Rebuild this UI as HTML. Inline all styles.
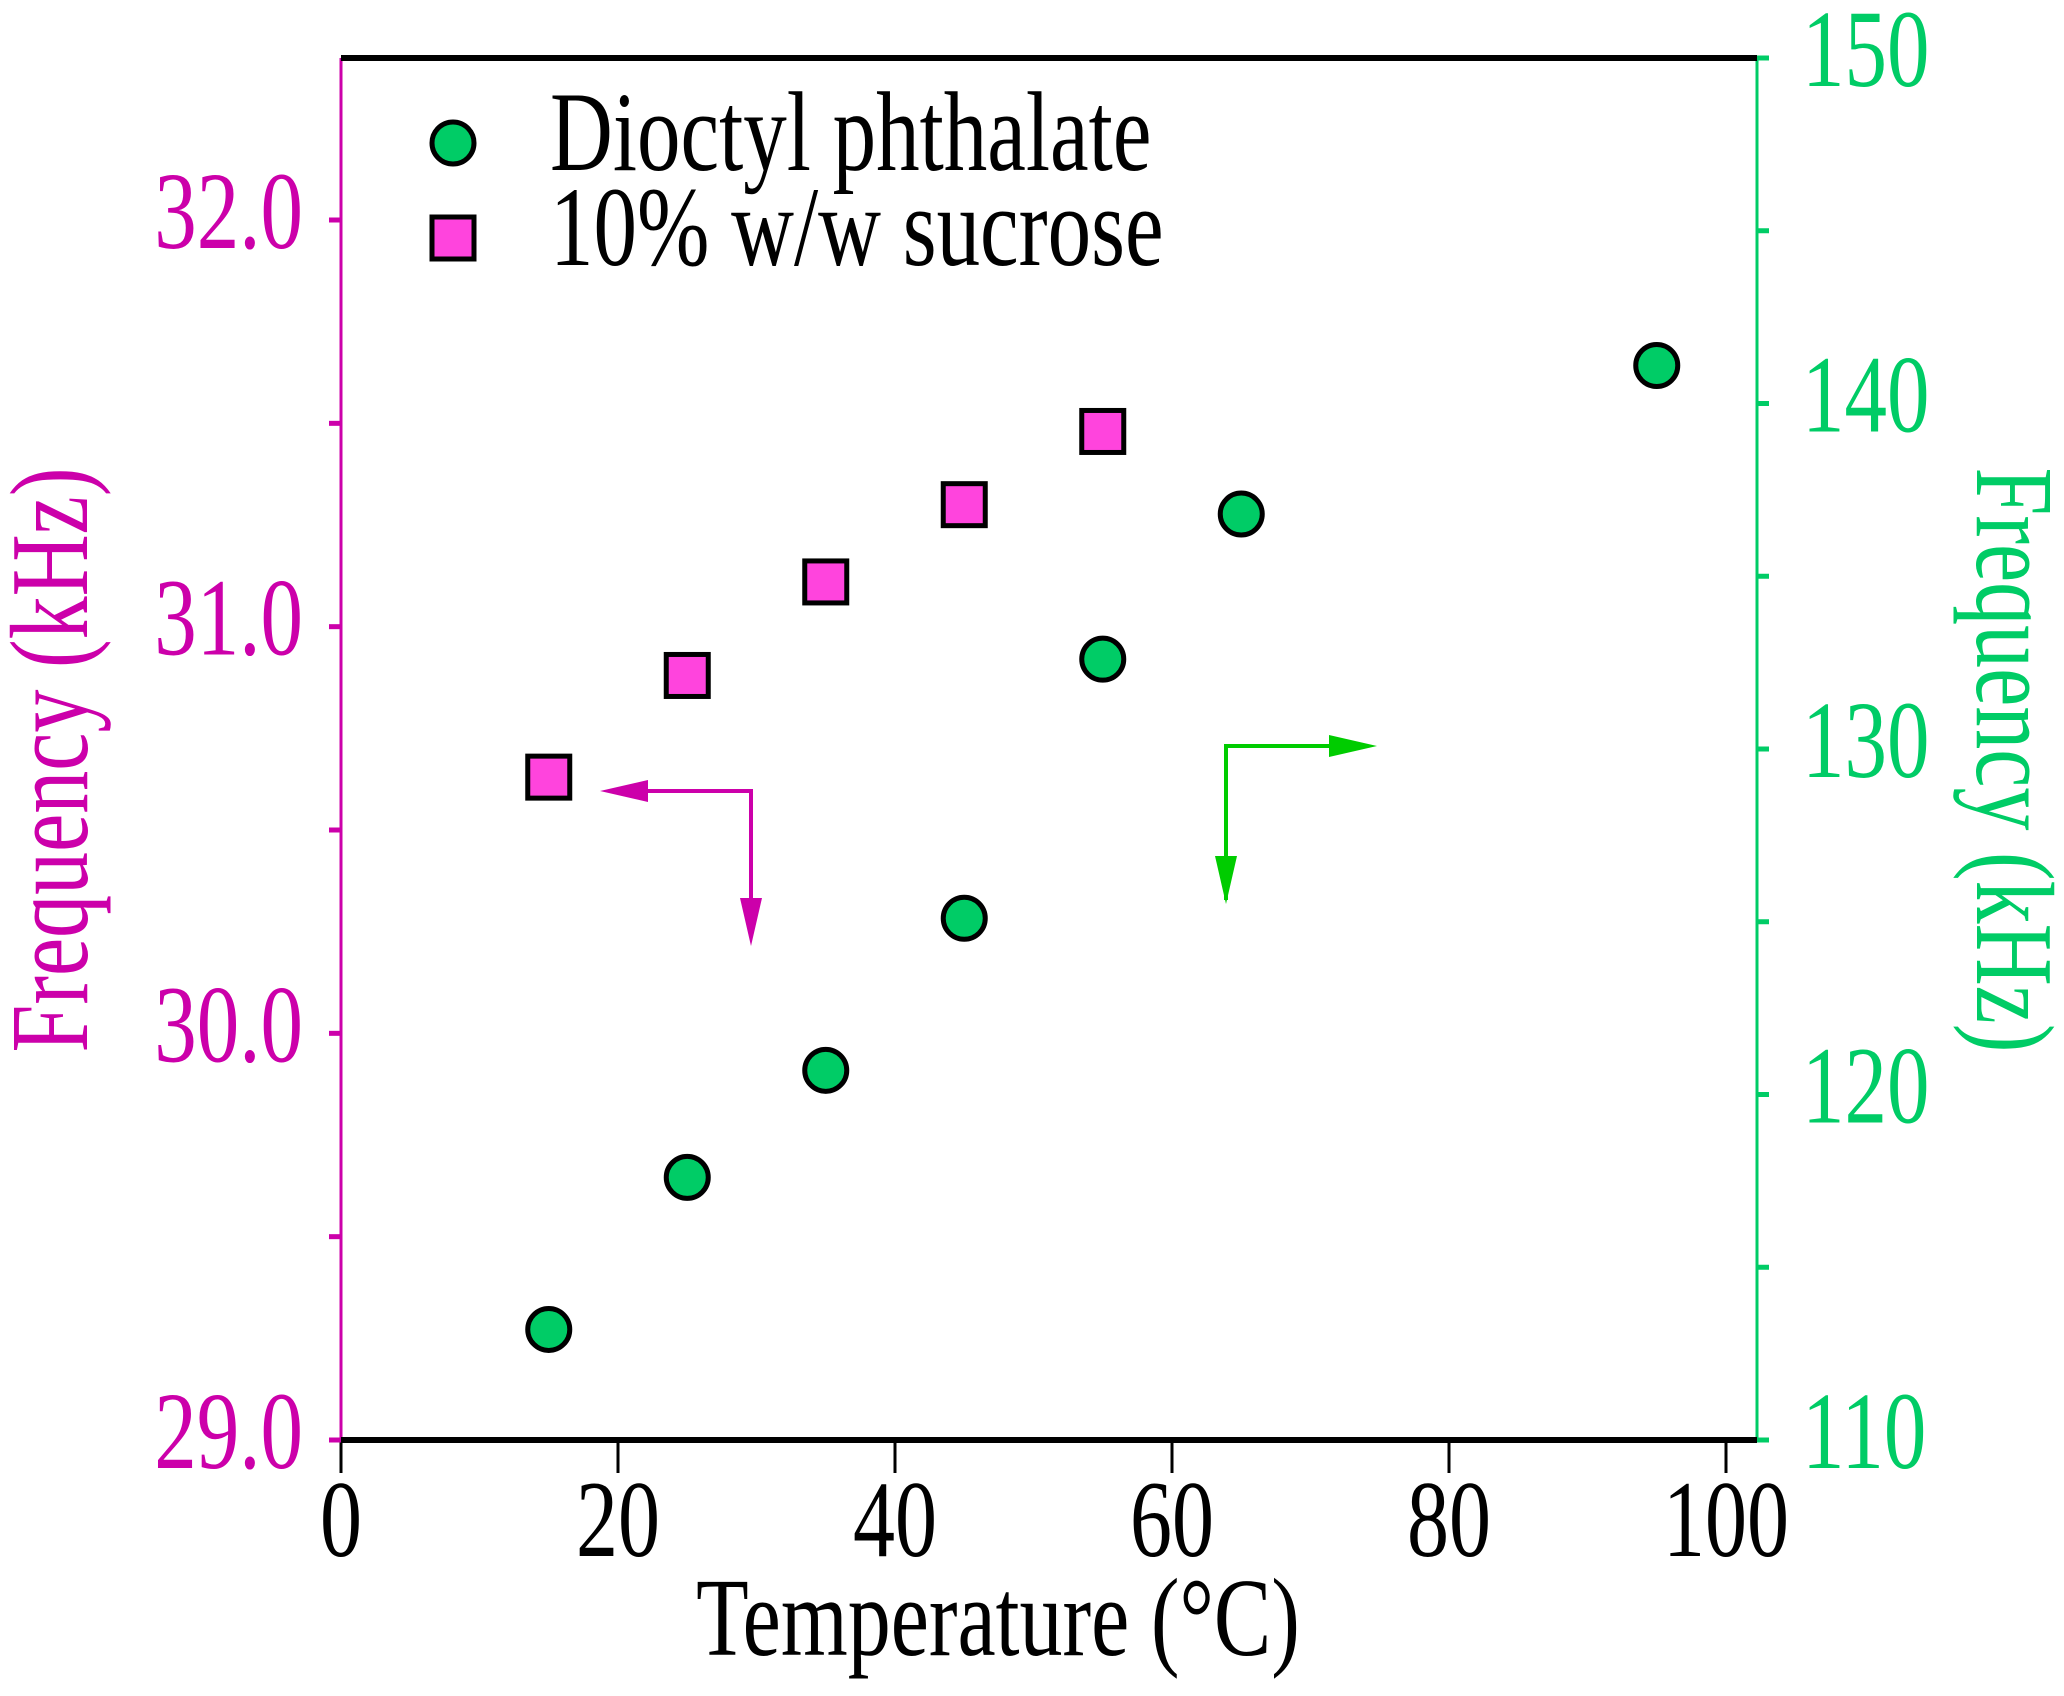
<!DOCTYPE html>
<html><head><meta charset="utf-8"><style>html,body{margin:0;padding:0;background:#fff}svg{display:block}</style></head>
<body>
<svg id="chart" width="2064" height="1696" viewBox="0 0 2064 1696" xmlns="http://www.w3.org/2000/svg" font-family="'Liberation Serif', serif">
</svg>
<script>
const temps = [15, 25, 35, 45, 55, 65, 95];
const dopFreq = [113.2, 117.6, 120.7, 125.1, 132.6, 136.8, 141.1];
const sucTemps = [15, 25, 35, 45, 55];
const sucFreq = [30.63, 30.88, 31.11, 31.30, 31.48];
const xTicks = [0, 20, 40, 60, 80, 100];
const yLeftTicks = ["29.0", "30.0", "31.0", "32.0"];
const yRightTicks = [110, 120, 130, 140, 150];

const X0 = 341, X1 = 1726, XR = 1757, YB = 1440, YT = 58;
const MAG = '#cc00aa', GRN = '#00cc66';
const xs = v => X0 + (X1 - X0) * v / 100;
const yl = v => YB - (v - 29) * (YB - 220) / 3;
const yr = v => YB - (v - 110) * (YB - YT) / 40;
const svg = document.getElementById('chart');
const NS = 'http://www.w3.org/2000/svg';
function mk(tag, attrs, parent) {
  const e = document.createElementNS(NS, tag);
  for (const k in attrs) e.setAttribute(k, attrs[k]);
  (parent || svg).appendChild(e);
  return e;
}
function txt(s, x, y, anchor, fill, size, rot) {
  const t = mk('text', {transform: `translate(${x},${y}) rotate(${rot||0}) scale(1,1.3)`, 'text-anchor': anchor, fill: fill, 'font-size': size});
  t.textContent = s;
  return t;
}
let e;
e = mk('line', {x1: X0, y1: YT, x2: X0, y2: YB, stroke: MAG, 'stroke-width': 3});
 
e = mk('line', {x1: XR, y1: YT, x2: XR, y2: YB, stroke: GRN, 'stroke-width': 3});
 
e = mk('line', {x1: X0, y1: YB, x2: XR, y2: YB, stroke: '#000', 'stroke-width': 6});
 
e = mk('line', {x1: X0, y1: YT, x2: XR, y2: YT, stroke: '#000', 'stroke-width': 6});
 
xTicks.forEach(v => {
  const l = mk('line', {x1: xs(v), y1: YB, x2: xs(v), y2: YB + 33, stroke: '#000', 'stroke-width': 3});
   
  const t = txt(String(v), xs(v), 1556, 'middle', '#000', 84);
   
});
for (let v = 29; v <= 32.01; v += 0.5) {
  const l = mk('line', {x1: X0 - 12, y1: yl(v), x2: X0, y2: yl(v), stroke: MAG, 'stroke-width': 5});
   
}
yLeftTicks.forEach(s => {
  const t = txt(s, 303, yl(parseFloat(s)) + 28, 'end', MAG, 85);
   
});
for (let v = 110; v <= 150; v += 5) {
  const l = mk('line', {x1: XR, y1: yr(v), x2: XR + 12, y2: yr(v), stroke: GRN, 'stroke-width': 5});
   
}
yRightTicks.forEach(v => {
  const t = txt(String(v), 1802, yr(v) + 28, 'start', GRN, 85);
   
});
e = txt('Temperature (°C)', 998, 1655, 'middle', '#000', 86);
 
e = txt('Frequency (kHz)', 87, 760, 'middle', MAG, 86, -90);
 
e = txt('Frequency (kHz)', 1977, 760, 'middle', GRN, 86, 90);
 
function arrow(pts, col, name) {
  const g = mk('g', {});
   
  mk('polyline', {points: pts.map(p => p.join(',')).join(' '), fill: 'none', stroke: col, 'stroke-width': 4}, g);
  return g;
}
function head(x, y, dir, col, g) {
  const L = 48, W = 11;
  let p;
  if (dir === 'left') p = [[x, y], [x + L, y - W], [x + L, y + W]];
  if (dir === 'right') p = [[x, y], [x - L, y - W], [x - L, y + W]];
  if (dir === 'down') p = [[x, y], [x - W, y - L], [x + W, y - L]];
  mk('polygon', {points: p.map(q => q.join(',')).join(' '), fill: col}, g);
}
let g = arrow([[638, 791], [751, 791], [751, 920]], MAG, 'left-axis-arrow');
head(600, 791, 'left', MAG, g); head(751, 946, 'down', MAG, g);
g = arrow([[1226, 900], [1226, 746], [1339, 746]], '#00cc00', 'right-axis-arrow');
head(1377, 746, 'right', '#00cc00', g); head(1226, 904, 'down', '#00cc00', g);
temps.forEach((t, i) => {
  const c = mk('circle', {cx: xs(t), cy: yr(dopFreq[i]), r: 21, fill: GRN, stroke: '#000', 'stroke-width': 5});
   
});
sucTemps.forEach((t, i) => {
  const r = mk('rect', {x: xs(t) - 21, y: yl(sucFreq[i]) - 21, width: 42, height: 42, fill: '#ff44dd', stroke: '#000', 'stroke-width': 5});
   
});
const lg = mk('g', {});
 
mk('circle', {cx: 453, cy: 143, r: 21, fill: GRN, stroke: '#000', 'stroke-width': 5}, lg);
mk('rect', {x: 432, y: 217, width: 42, height: 42, fill: '#ff44dd', stroke: '#000', 'stroke-width': 5}, lg);
e = txt('Dioctyl phthalate', 550, 170, 'start', '#000', 87); lg.appendChild(e);
 
e = txt('10% w/w sucrose', 550, 265, 'start', '#000', 87); lg.appendChild(e);
 
</script>
</body></html>
